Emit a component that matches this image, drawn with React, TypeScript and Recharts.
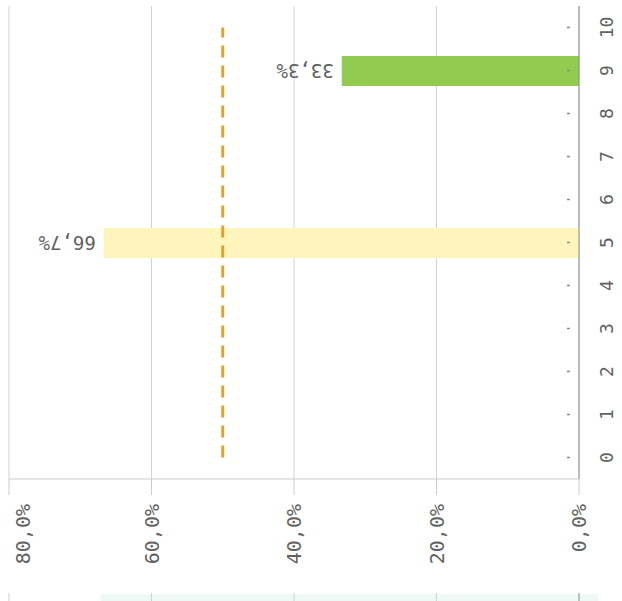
import React from 'react'
import {
  ComposedChart,
  Bar,
  Line,
  Cell,
  XAxis,
  YAxis,
  CartesianGrid,
  LabelList,
} from 'recharts'

// values
const categories = ['0', '1', '2', '3', '4', '5', '6', '7', '8', '9', '10']
const shares = [null, null, null, null, null, 0.667, null, null, null, 0.333, null]
const target = [0.5, 0.5, 0.5, 0.5, 0.5, 0.5, 0.5, 0.5, 0.5, 0.5, 0.5]
const percentTicks = [0, 0.2, 0.4, 0.6, 0.8]

const barColors: Record<string, string> = { '5': '#fdf5bb', '9': '#93cb50' }

const W = 622
const H = 601
const MARGIN = { top: 6, right: 0, bottom: 0, left: 9 }
const Y_AXIS_W = 43
const X_AXIS_H = 122
const FONT = '"DejaVu Sans Mono", monospace'
const TEXT = '#616161'

const fmt = (v: number) => (v * 100).toFixed(1).replace('.', ',') + '%'

const data = categories.map((cat, i) => ({
  cat,
  share: shares[i],
  target: target[i],
}))

const PercentTick = ({ x, y, payload }: any) => {
  const cx = Math.max(x, 23)
  const ty = y + 9
  return (
    <text
      x={cx}
      y={ty}
      transform={`rotate(-90 ${cx} ${ty})`}
      textAnchor="end"
      dominantBaseline="central"
      fill={TEXT}
      fontSize={20}
      fontFamily={FONT}
    >
      {fmt(payload.value)}
    </text>
  )
}

const CategoryTick = ({ x, y, payload }: any) => (
  <g>
    <line x1={x - 12} x2={x - 9} y1={y} y2={y} stroke="#8a8a8a" strokeWidth={1.5} />
    <text
      x={x + 27}
      y={y}
      transform={`rotate(-90 ${x + 27} ${y})`}
      textAnchor="middle"
      dominantBaseline="central"
      fill={TEXT}
      fontSize={18}
      fontFamily={FONT}
    >
      {payload.value}
    </text>
  </g>
)

const ShareLabel = ({ x, y, width, height, value }: any) => {
  if (value == null) return null
  const left = Math.min(x, x + width) - 8
  const cy = y + height / 2
  return (
    <text
      x={left}
      y={cy}
      transform={`rotate(180 ${left} ${cy})`}
      textAnchor="start"
      dominantBaseline="central"
      fill={TEXT}
      fontSize={19}
      fontFamily={FONT}
    >
      {fmt(value)}
    </text>
  )
}

// faint strip of the next panel peeking in at the bottom edge
const plotLeft = MARGIN.left
const plotRight = W - Y_AXIS_W
const xOf = (v: number) => plotRight - (v / 0.8) * (plotRight - plotLeft)

const BottomStrip = () => (
  <svg width={W} height={8} style={{ position: 'absolute', left: 0, top: H - 8 }}>
    <rect x={101} y={1} width={497} height={7} fill="#eef9f6" />
    {percentTicks.map((t) => (
      <line
        key={t}
        x1={xOf(t)}
        x2={xOf(t)}
        y1={0}
        y2={8}
        stroke={t === 0 ? '#7f8f8a' : '#cfcfcf'}
        strokeWidth={1}
      />
    ))}
  </svg>
)

export default function App() {
  return (
    <div style={{ position: 'absolute', left: 0, top: 0, width: W, height: H, background: '#fff' }}>
      <ComposedChart width={W} height={H} data={data} layout="vertical" margin={MARGIN}>
        <CartesianGrid horizontal={false} stroke="#d2d2d2" />
        <XAxis
          type="number"
          domain={[0, 0.8]}
          ticks={percentTicks}
          reversed
          orientation="bottom"
          height={X_AXIS_H}
          stroke="#cccccc"
          tickSize={16}
          tickMargin={0}
          tick={<PercentTick />}
          interval={0}
        />
        <YAxis
          type="category"
          dataKey="cat"
          reversed
          orientation="right"
          width={Y_AXIS_W}
          stroke="#8a8a8a"
          tickLine={false}
          tickSize={0}
          tickMargin={0}
          tick={<CategoryTick />}
          interval={0}
        />
        <Bar dataKey="share" barSize={30} isAnimationActive={false}>
          {data.map((d) => (
            <Cell key={d.cat} fill={barColors[d.cat] || '#ffffff'} />
          ))}
          <LabelList dataKey="share" content={<ShareLabel />} />
        </Bar>
        <Line
          dataKey="target"
          stroke="#e3a02f"
          strokeWidth={3}
          strokeDasharray="12 8"
          dot={false}
          activeDot={false}
          isAnimationActive={false}
        />
      </ComposedChart>
      <BottomStrip />
    </div>
  )
}
